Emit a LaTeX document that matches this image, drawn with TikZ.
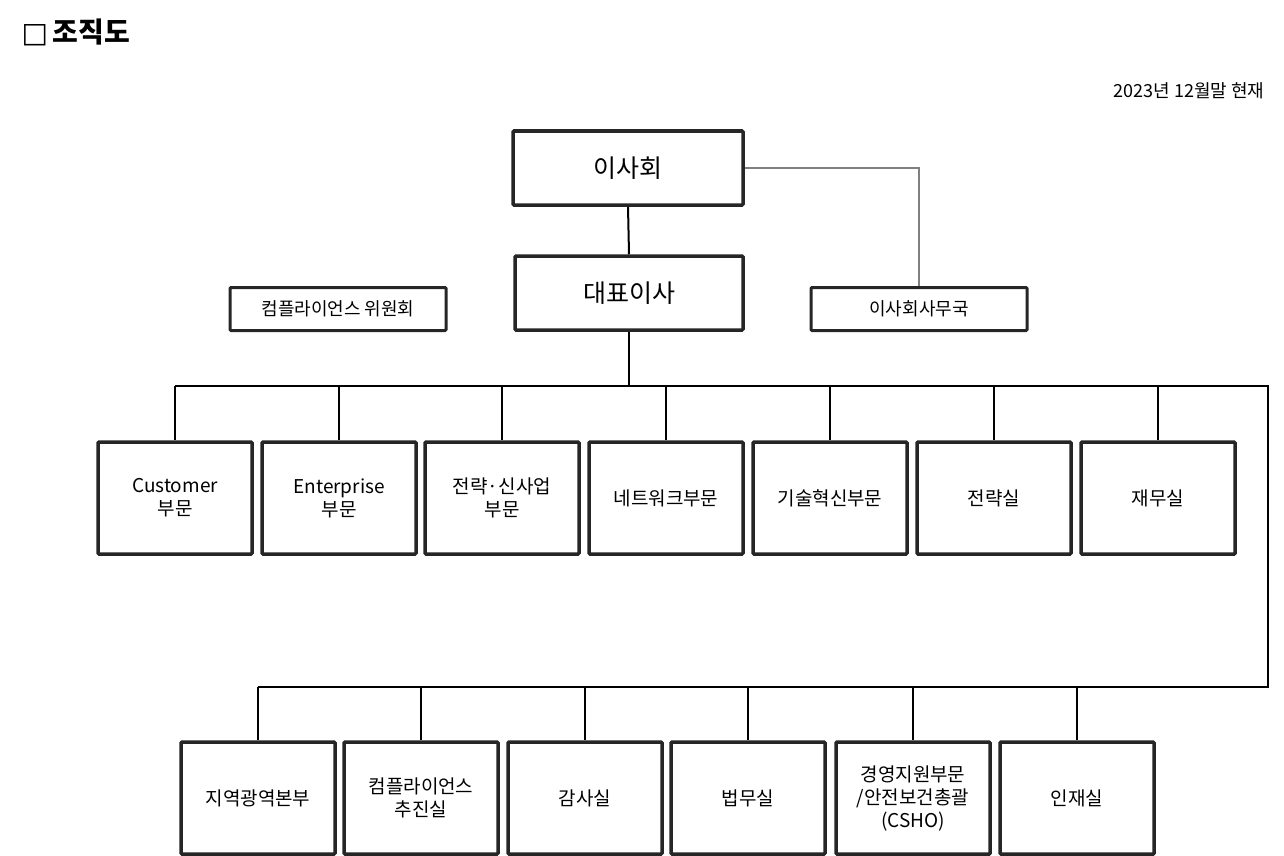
\documentclass[tikz,border=0pt]{standalone}
\usepackage{fontspec}
\setmainfont{Noto Sans CJK KR}
\newfontfamily\djv{DejaVu Sans}
\begin{document}
\begin{tikzpicture}[x=1pt,y=-1pt,
  bx/.style={draw=black!85,line width=3.5pt,rounded corners=1pt,fill=white,align=center,inner sep=0pt,font=\fontsize{19}{23}\selectfont},
  sbx/.style={draw=black!85,line width=3pt,rounded corners=1pt,fill=white,align=center,inner sep=0pt,font=\fontsize{18}{22}\selectfont},
  ln/.style={line width=2pt,black}]
\useasboundingbox (0,0) rectangle (1284,856);
\node[anchor=west,font=\fontsize{28}{32}\selectfont\bfseries] (title) at (18,32) {{\djv □}\,조직도};
\node[anchor=east,font=\fontsize{18}{22}\selectfont] (date) at (1268,91) {2023년 12월말 현재};
\node[bx,minimum width=230,minimum height=74,font=\fontsize{25}{30}\selectfont] (bod) at (628,168) {이사회};
\node[bx,minimum width=228,minimum height=74,font=\fontsize{25}{30}\selectfont] (ceo) at (629,293) {대표이사};
\node[sbx,minimum width=216,minimum height=43] (sec) at (919,309) {이사회사무국};
\node[sbx,minimum width=216,minimum height=43] (cc) at (338,309) {컴플라이언스 위원회};
\draw[gray,line width=1.2pt] (bod.east) -| (sec.north);
\draw[ln] (bod.south) -- (ceo.south |- ceo.north);
\coordinate (bus) at (629,386);
\draw[ln] (ceo.south) -- (bus);
\foreach \n/\x/\t in {a/175/{Customer\\부문},b/339/{Enterprise\\부문},c/502/{전략·신사업\\부문},d/666/네트워크부문,e/830/기술혁신부문,f/994/전략실,g/1158/재무실}{
  \node[bx,minimum width=154,minimum height=112] (\n) at (\x,498) {\t};
  \draw[ln,line width=1.5pt] (\x,386) -- (\n.north);
}
\coordinate (r1) at (1268,386);
\coordinate (r2) at (1268,687);
\coordinate (l2) at (258,687);
\draw[ln,line width=1.5pt] (a.north |- bus) -- (r1) -- (r2) -- (l2);
\foreach \n/\x/\t in {h/258/지역광역본부,i/421/{컴플라이언스\\추진실},j/585/감사실,k/748/법무실,l/913/{경영지원부문\\/안전보건총괄\\(CSHO)},m/1077/인재실}{
  \node[bx,minimum width=154,minimum height=112] (\n) at (\x,798) {\t};
  \draw[ln,line width=1.5pt] (\x,687) -- (\n.north);
}
\end{tikzpicture}
\end{document}
